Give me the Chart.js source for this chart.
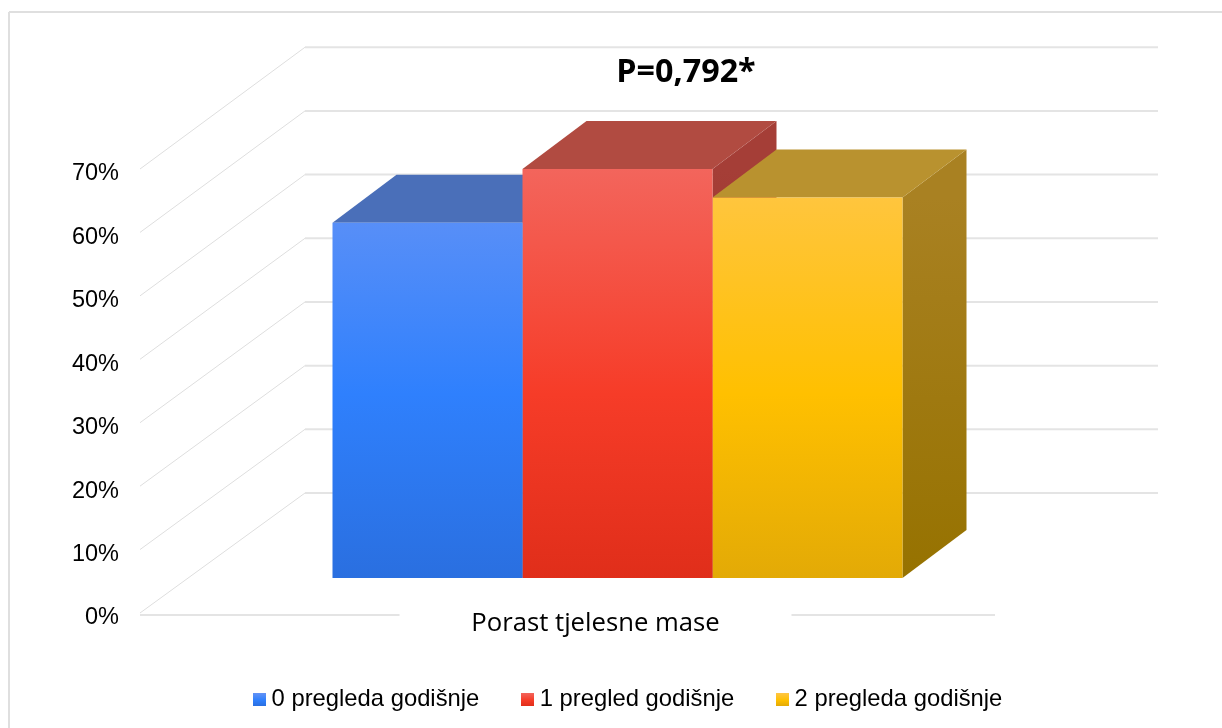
<!DOCTYPE html>
<html>
<head>
<meta charset="utf-8">
<title>Porast tjelesne mase</title>
<script src="https://cdn.jsdelivr.net/npm/chart.js@4"></script>
<style>
  body { margin: 0; background: #fff; }
  canvas { display: block; }
</style>
</head>
<body>
<canvas id="barChart" width="1222" height="728"></canvas>
<script>
// Values
const categories = ['Porast tjelesne mase'];
const seriesNames = ['0 pregleda godišnje', '1 pregled godišnje', '2 pregleda godišnje'];
const noVisits = [56];
const oneVisit = [64.5];
const twoVisits = [60];
const yTicks = [0, 10, 20, 30, 40, 50, 60, 70];
const annotation = 'P=0,792*';

// Colours: front gradient (top, middle, bottom), top face, side face (top, bottom)
const frontColors = [
  ['#6493f6', '#2f80fd', '#2a6fe0'],
  ['#f3655c', '#f63c28', '#e02e1a'],
  ['#ffc646', '#ffc000', '#e3aa06']
];
const topColors = ['#4a6fb9', '#b14b41', '#b9922f'];
const sideColors = [['#3a5ea6', '#2c4f99'], ['#a53e37', '#8f2a20'], ['#a98122', '#967200']];

// 3D look: how far the wall and the bars go back
const wallX = 165, wallY = 122;
const wallStretch = 0.025;
const barDepthX = 64, barDepthY = 48;
const floorGap = 196;
const lineColor = '#e4e4e4';

function frontGradient(chart, i) {
  const area = chart.chartArea;
  if (!area) return frontColors[i][1];
  const y = chart.scales.yBars;
  const grad = chart.ctx.createLinearGradient(0, y.getPixelForValue(oneVisit[0]), 0, y.getPixelForValue(0));
  grad.addColorStop(0, frontColors[i][0]);
  grad.addColorStop(0.55, frontColors[i][1]);
  grad.addColorStop(1, frontColors[i][2]);
  return grad;
}

function makeSwatch(colors) {
  const c = document.createElement('canvas');
  c.width = 13;
  c.height = 13;
  const g = c.getContext('2d');
  const grad = g.createLinearGradient(0, 0, 0, 13);
  grad.addColorStop(0, colors[0]);
  grad.addColorStop(0.55, colors[1]);
  grad.addColorStop(1, colors[2]);
  g.fillStyle = grad;
  g.fillRect(0, 0, 13, 13);
  return c;
}
const swatches = frontColors.map(makeSwatch);

function line(ctx, x1, y1, x2, y2) {
  ctx.beginPath();
  ctx.moveTo(x1, y1);
  ctx.lineTo(x2, y2);
  ctx.stroke();
}

function poly(ctx, pts, fill) {
  ctx.fillStyle = fill;
  ctx.beginPath();
  pts.forEach((p, i) => i ? ctx.lineTo(p[0], p[1]) : ctx.moveTo(p[0], p[1]));
  ctx.closePath();
  ctx.fill();
}

// Frame, walls and the bar faces the library doesn't draw
const depthPlugin = {
  id: 'depth',
  afterLayout(chart) {
    chart.legend.left += 13;
    chart.legend.right += 13;
  },
  beforeDatasetsDraw(chart) {
    const ctx = chart.ctx;
    const area = chart.chartArea;
    const y = chart.scales.y;
    const x0 = area.left;
    const floorRight = chart.width - 227;

    ctx.save();
    ctx.strokeStyle = '#dfdfdf';
    ctx.lineWidth = 2;
    line(ctx, 9, 12, chart.width, 12);
    line(ctx, 9, 12, 9, chart.height);

    yTicks.forEach(v => {
      const py = y.getPixelForValue(v);
      const backY = py - wallY - v * wallStretch;
      ctx.strokeStyle = '#dedede';
      ctx.lineWidth = 1;
      line(ctx, x0, py - 2, x0 + wallX, backY);
      ctx.strokeStyle = lineColor;
      ctx.lineWidth = 2;
      line(ctx, x0 + wallX, backY, floorRight + wallX - 2, backY);
    });

    // front edge of the floor stops around the category label
    const labelX = (area.left + area.right) / 2 - 22;
    const py0 = y.getPixelForValue(0);
    line(ctx, x0, py0, labelX - floorGap, py0);
    line(ctx, labelX + floorGap, py0, floorRight, py0);

    chart.data.datasets.forEach((ds, i) => {
      const bar = chart.getDatasetMeta(i).data[0];
      const left = bar.x - bar.width / 2;
      const right = bar.x + bar.width / 2;
      const side = ctx.createLinearGradient(0, bar.y, 0, bar.base);
      side.addColorStop(0, sideColors[i][0]);
      side.addColorStop(1, sideColors[i][1]);
      poly(ctx, [[right, bar.y], [right + barDepthX, bar.y - barDepthY],
        [right + barDepthX, bar.base - barDepthY], [right, bar.base]], side);
      poly(ctx, [[left, bar.y], [left + barDepthX, bar.y - barDepthY],
        [right + barDepthX, bar.y - barDepthY], [right, bar.y]], topColors[i]);
    });
    ctx.restore();
  },
  afterDraw(chart) {
    const ctx = chart.ctx;
    ctx.save();
    ctx.fillStyle = '#000';
    ctx.font = 'bold 32.3px "Open Sans"';
    ctx.textAlign = 'center';
    ctx.textBaseline = 'middle';
    ctx.fillText(annotation, 686, 72.5);
    ctx.restore();
  }
};

const values = [noVisits, oneVisit, twoVisits];

new Chart(document.getElementById('barChart').getContext('2d'), {
  type: 'bar',
  data: {
    labels: categories,
    datasets: seriesNames.map((name, i) => ({
      label: name,
      data: values[i],
      yAxisID: 'yBars',
      backgroundColor: ctx => frontGradient(ctx.chart, i),
      borderWidth: 0
    }))
  },
  options: {
    responsive: false,
    animation: false,
    layout: { padding: { top: 47, right: 127, bottom: 6.5, left: 0 } },
    datasets: { bar: { categoryPercentage: 570 / 955, barPercentage: 1 } },
    plugins: {
      tooltip: { enabled: false },
      legend: {
        position: 'bottom',
        fullSize: false,
        labels: {
          color: '#000',
          font: { family: '"Liberation Sans"', size: 23.8 },
          usePointStyle: true,
          boxWidth: 1,
          boxHeight: 13,
          pointStyleWidth: 1,
          padding: 47.5,
          generateLabels(chart) {
            return Chart.defaults.plugins.legend.labels.generateLabels(chart).map((item, i) => {
              item.pointStyle = swatches[i];
              return item;
            });
          }
        }
      }
    },
    scales: {
      x: {
        grid: { display: false, drawTicks: false },
        border: { display: false },
        afterFit(scale) { scale.height = 25.2; },
        ticks: {
          color: '#000',
          font: { family: '"Open Sans"', size: 25.7 },
          mirror: true,
          padding: -24,
          labelOffset: -22,
          maxRotation: 0
        }
      },
      y: {
        min: 0,
        max: 89.55,
        grid: { display: false, drawTicks: false },
        border: { display: false },
        afterFit(scale) { scale.width = 140; },
        afterBuildTicks(scale) { scale.ticks = yTicks.map(v => ({ value: v })); },
        ticks: {
          color: '#000',
          font: { family: '"Liberation Sans"', size: 23.5 },
          padding: 21,
          labelOffset: 3,
          callback: v => v + '%'
        }
      },
      // the bars stand further back on the floor, so they get their own baseline
      yBars: {
        display: false,
        min: -5.83,
        max: 83.72
      }
    }
  },
  plugins: [depthPlugin]
});
</script>
</body>
</html>
